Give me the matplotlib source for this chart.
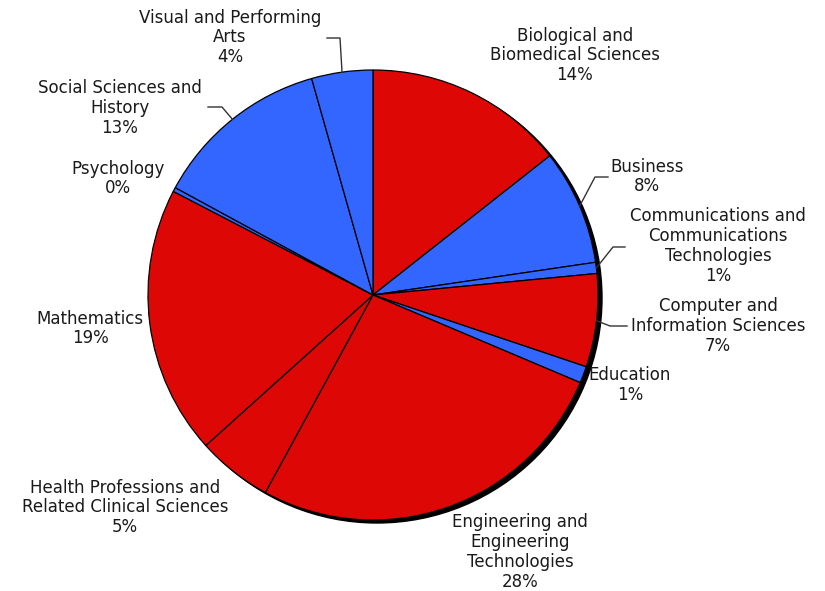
import numpy as np
import matplotlib.pyplot as plt
from matplotlib.patches import Circle

# slices, clockwise from 12 o'clock
categories = [
    "Biological and\nBiomedical Sciences",
    "Business",
    "Communications and\nCommunications\nTechnologies",
    "Computer and\nInformation Sciences",
    "Education",
    "Engineering and\nEngineering\nTechnologies",
    "Health Professions and\nRelated Clinical Sciences",
    "Mathematics",
    "Psychology",
    "Social Sciences and\nHistory",
    "Visual and Performing\nArts",
]
shares = [14.4, 8.3, 0.8, 6.7, 1.2, 26.6, 5.4, 19.3, 0.3, 12.7, 4.4]
pct_labels = ["14%", "8%", "1%", "7%", "1%", "28%", "5%", "19%", "0%", "13%", "4%"]

RED = "#dd0806"
BLUE = "#3366ff"
colors = [RED, BLUE, BLUE, RED, BLUE, RED, RED, RED, BLUE, BLUE, BLUE]

# label centres in pixels (x, y from top)
label_pos = [(575, 55.5), (647, 176.5), (718, 246), (718, 326), (630, 385),
             (520, 552), (125, 507.5), (90, 328.5), (118, 178.5), (120, 108),
             (230, 37.5)]
# leader lines: elbow and end point, in pixels
leaders = {
    1: [(595, 177), (608, 177)],
    2: [(613, 247), (625, 247)],
    3: [(610, 326), (627, 326)],
    9: [(222, 107), (208, 107)],
    10: [(340, 38), (327, 38)],
}

W, H = 825, 591
fig = plt.figure(figsize=(W / 100, H / 100), dpi=100)
ax = fig.add_axes([0, 0, 1, 1])

cx, cy, r = 373, H - 295, 225

# drop shadow
ax.add_patch(Circle((cx + 4, cy - 3), r, color="black", zorder=0))

wedges, _ = ax.pie(shares, colors=colors, startangle=90, counterclock=False,
                   center=(cx, cy), radius=r,
                   wedgeprops=dict(edgecolor="black", linewidth=0.9))

for i, (name, pct) in enumerate(zip(categories, pct_labels)):
    x, y = label_pos[i]
    ax.text(x, H - y, name + "\n" + pct, ha="center", va="center",
            fontsize=12, color="#1a1a1a", linespacing=1.14,
            family="DejaVu Sans")
    if i in leaders:
        w = wedges[i]
        mid = np.deg2rad((w.theta1 + w.theta2) / 2)
        xs = [cx + r * np.cos(mid)] + [p[0] for p in leaders[i]]
        ys = [cy + r * np.sin(mid)] + [H - p[1] for p in leaders[i]]
        ax.plot(xs, ys, color="#333333", linewidth=1)

ax.set_xlim(0, W)
ax.set_ylim(0, H)
ax.set_aspect("equal")
ax.axis("off")

fig.savefig("out.png", dpi=100, facecolor="white")
